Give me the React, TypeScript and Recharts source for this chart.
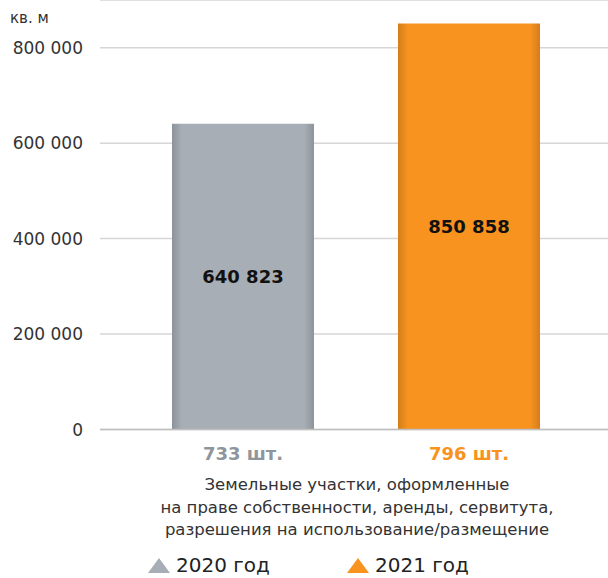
import React from "react";
import { BarChart, Bar, XAxis, YAxis, CartesianGrid, Cell, LabelList } from "recharts";

const categories = ["733 шт.", "796 шт."];
const years = ["2020 год", "2021 год"];
const values = [640823, 850858];
const yTicks = [0, 200000, 400000, 600000, 800000];
const unitLabel = "кв. м";
const descriptionLines = [
  "Земельные участки, оформленные",
  "на праве собственности, аренды, сервитута,",
  "разрешения на использование/размещение",
];

const colors = ["#a8aeb5", "#f7931e"];
const edgeColors = ["#8c939b", "#d47d1a"];
const tickColors = ["#8f959c", "#f7931e"];

const data = categories.map((c, i) => ({ name: c, value: values[i], year: years[i] }));

const fmt = (v: number) => String(v).replace(/\B(?=(\d{3})+(?!\d))/g, " ");

const FONT = "'DejaVu Sans', sans-serif";

const XTick = (props: any) => {
  const { x, y, payload, index } = props;
  return (
    <text
      x={x}
      y={y + 22}
      textAnchor="middle"
      fill={tickColors[index]}
      fontFamily={FONT}
      fontWeight="bold"
      fontSize={18}
    >
      {payload.value}
    </text>
  );
};

export default function App() {
  return (
    <div style={{ position: "absolute", left: 0, top: 0, width: 608, height: 578 }}>
      <BarChart
        width={608}
        height={578}
        data={data}
        margin={{ top: 0, right: 0, bottom: 118.5, left: 0 }}
        barSize={142}
      >
        <defs>
          {colors.map((c, i) => (
            <linearGradient key={"h" + i} id={"grad" + i} x1="0" y1="0" x2="1" y2="0">
              <stop offset="0" stopColor={edgeColors[i]} />
              <stop offset="0.07" stopColor={c} />
              <stop offset="0.93" stopColor={c} />
              <stop offset="1" stopColor={edgeColors[i]} />
            </linearGradient>
          ))}
        </defs>
        <CartesianGrid vertical={false} stroke="#d6d6d6" strokeWidth={1.5} />
        <XAxis
          dataKey="name"
          axisLine={{ stroke: "#bfbfbf", strokeWidth: 1.5 }}
          tickLine={false}
          height={30}
          padding={{ left: 30, right: 26 }}
          tick={<XTick />}
          interval={0}
        />
        <YAxis
          width={100}
          domain={[0, 900000]}
          ticks={yTicks}
          axisLine={false}
          tickLine={false}
          tickSize={0}
          tickMargin={17}
          tickFormatter={fmt}
          tick={{ fill: "#333", fontSize: 17, fontFamily: FONT }}
        />
        <Bar dataKey="value" isAnimationActive={false}>
          {data.map((d, i) => (
            <Cell key={i} fill={`url(#grad${i})`} />
          ))}
          <LabelList
            dataKey="value"
            position="center"
            formatter={(v: any) => fmt(Number(v))}
            fill="#111"
            fontFamily={FONT}
            fontWeight="bold"
            fontSize={18}
          />
        </Bar>
        <text x={10} y={23} fill="#333" fontFamily={FONT} fontSize={15}>
          {unitLabel}
        </text>
        {descriptionLines.map((l, i) => (
          <text
            key={i}
            x={357}
            y={490 + i * 22.5}
            textAnchor="middle"
            fill="#333"
            fontFamily={FONT}
            fontSize={16.5}
          >
            {l}
          </text>
        ))}
        {years.map((y, i) => {
          const lx = 148 + i * 199;
          return (
            <g key={y}>
              <polygon
                points={`${lx},573 ${lx + 11},558 ${lx + 22},573`}
                fill={colors[i]}
              />
              <text x={lx + 28} y={572} fill="#222" fontFamily={FONT} fontSize={20}>
                {y}
              </text>
            </g>
          );
        })}
      </BarChart>
    </div>
  );
}
